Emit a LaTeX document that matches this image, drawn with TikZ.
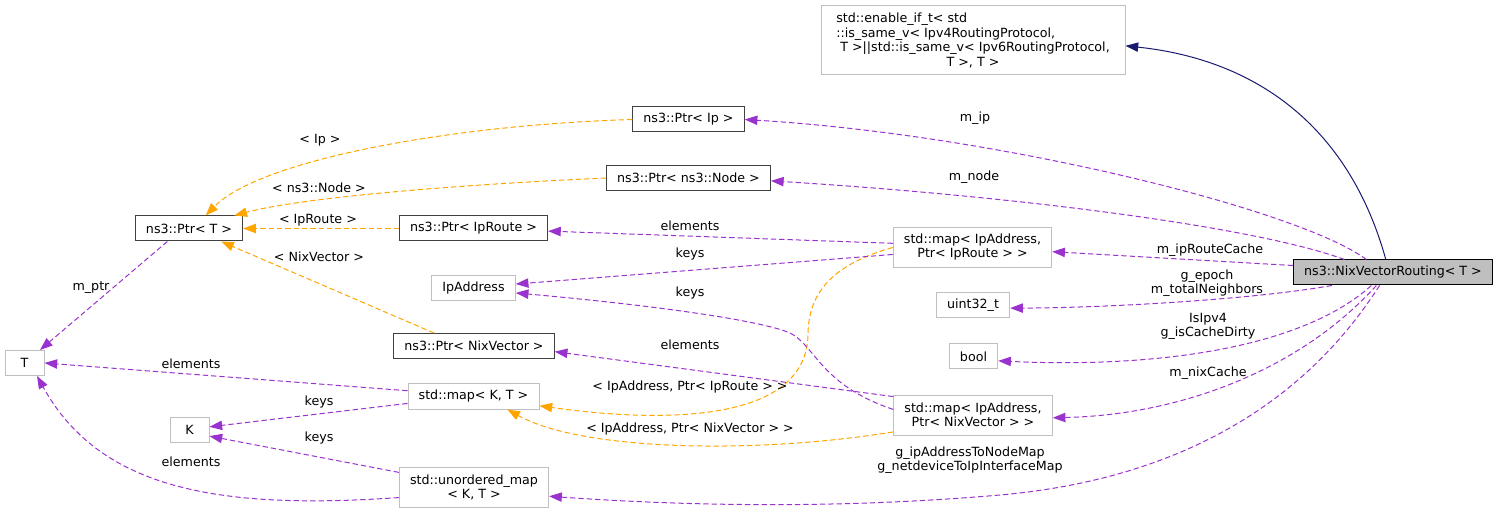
\documentclass[tikz,border=0pt]{standalone}
\usepackage{fontspec}
\setmainfont{DejaVu Sans}
\usepackage{tikz}
\usetikzlibrary{arrows.meta}
\definecolor{dgpurple}{HTML}{9A32CD}
\definecolor{dgorange}{HTML}{FFA500}
\definecolor{dgnavy}{HTML}{191970}
\definecolor{boxgray}{HTML}{BFBFBF}
\definecolor{boxdark}{HTML}{404040}

\begin{document}
\begin{tikzpicture}[x=0.75pt,y=-0.75pt,
    every node/.style={font=\fontsize{9.5}{10.5}\selectfont},
    cls/.style={draw=boxdark,line width=0.75pt,inner xsep=8pt,inner ysep=0pt,minimum height=18.75pt,minimum width=29.25pt},
    ext/.style={cls,draw=boxgray},
    two/.style={minimum height=30pt,align=center},
    lbl/.style={inner sep=0pt,align=center},
    uses/.style={dgpurple,line width=0.75pt,dash pattern=on 4pt off 2.25pt,-{Triangle[length=9.5pt,width=7pt]}},
    tpl/.style={uses,dgorange},
    inh/.style={dgnavy,line width=0.75pt,-{Triangle[length=9.5pt,width=7pt]}}]
      \useasboundingbox (0,0) rectangle (1500,513);
      % classes
      \node[ext,align=left,minimum width=228pt,minimum height=51.75pt,font=\fontsize{9.5}{11}\selectfont] (enable) at (973,40.5)
        {std::enable\_if\_t< std\\::is\_same\_v< Ipv4RoutingProtocol,\\\ T >||std::is\_same\_v< Ipv6RoutingProtocol,\\\hfill T >, T >\hfill\null};
      \node[cls] (ptrip) at (688.5,119.5) {ns3::Ptr< Ip >};
      \node[cls] (ptrnode) at (688.5,178) {ns3::Ptr< ns3::Node >};
      \node[cls] (ptrt) at (189,228.5) {ns3::Ptr< T >};
      \node[cls] (ptrroute) at (473.5,228.5) {ns3::Ptr< IpRoute >};
      \node[ext,two] (maproute) at (972.5,247.5) {std::map< IpAddress,\\Ptr< IpRoute > >};
      \node[ext] (ipaddr) at (473.5,288.5) {IpAddress};
      \node[ext] (uint) at (973,305.5) {uint32\_t};
      \node[ext] (boolbox) at (973.5,356.5) {bool};
      \node[cls,draw=black,fill=boxgray] (nvr) at (1393,272.5) {ns3::NixVectorRouting< T >};
      \node[cls] (ptrnix) at (474,346) {ns3::Ptr< NixVector >};
      \node[ext] (tnode) at (24.5,363) {T};
      \node[ext] (mapkt) at (473.5,396.5) {std::map< K, T >};
      \node[ext] (knode) at (189.5,430) {K};
      \node[ext,two] (mapnix) at (973,415) {std::map< IpAddress,\\Ptr< NixVector > >};
      \node[ext,two] (umap) at (474,487) {std::unordered\_map\\< K, T >};
      % members of NixVectorRouting
      \draw[inh] (nvr.119) .. controls (1350,130) and (1260,60) .. (enable.-2.5);
      \draw[uses] (nvr.154) .. controls (1300,210) and (1000,135) .. (ptrip.east);
      \draw[uses] (nvr.165) .. controls (1250,225) and (1000,195) .. (ptrnode.-2);
      \draw[uses] (nvr.176) -- (maproute.-3);
      \draw[uses] (nvr.-168) .. controls (1250,300) and (1100,308) .. (uint.-4);
      \draw[uses] (nvr.-149) .. controls (1300,350) and (1150,368) .. (boolbox.-10);
      \draw[uses] (nvr.-142) .. controls (1300,370) and (1180,415) .. (mapnix.-2);
      \draw[uses] (nvr.-136) .. controls (1300,410) and (1170,480) .. (1000,495)
        .. controls (850,508) and (700,507) .. (umap.-7.5);
      % template instances
      \draw[tpl] (ptrip.west) .. controls (450,125) and (260,160) .. (ptrt.38);
      \draw[tpl] (ptrnode.west) .. controls (450,185) and (300,198) .. (ptrt.16);
      \draw[tpl] (ptrroute.west) -- (ptrt.east);
      \draw[tpl] (ptrnix.162) -- (ptrt.-22);
      \draw[tpl] (maproute.west) .. controls (830,265) and (808,295) .. (808,335)
        .. controls (806,430) and (640,420) .. (mapkt.-8);
      \draw[tpl] (mapnix.-168) .. controls (750,455) and (580,450) .. (mapkt.-21.6);
      % members of the templates
      \draw[uses] (ptrt.-149) -- (tnode.40);
      \draw[uses] (maproute.177) -- (ptrroute.-2);
      \draw[uses] (maproute.-175) -- (ipaddr.6);
      \draw[uses] (mapnix.176.5) .. controls (820,385) and (815,345) .. (790,333)
        .. controls (760,320) and (650,305) .. (ipaddr.-6);
      \draw[uses] (mapnix.167.5) -- (ptrnix.-4);
      \draw[uses] (mapkt.175) -- (tnode.east);
      \draw[uses] (mapkt.-174) -- (knode.9);
      \draw[uses] (umap.169) -- (knode.-17);
      \draw[uses] (umap.-172.5) .. controls (220,510) and (100,490) .. (tnode.-46);
      % labels
      \node[lbl] (lip) at (975,118) {m\_ip};
      \node[lbl] (lnode) at (974,177) {m\_node};
      \node[lbl] (lcache) at (1210,250) {m\_ipRouteCache};
      \node[lbl] (lepoch) at (1207,283) {g\_epoch\\m\_totalNeighbors};
      \node[lbl] (lipv4) at (1208,326) {IsIpv4\\g\_isCacheDirty};
      \node[lbl] (lnix) at (1208,373) {m\_nixCache};
      \node[lbl] (lmaps) at (970,460) {g\_ipAddressToNodeMap\\g\_netdeviceToIpInterfaceMap};
      \node[lbl] (lti) at (320,140) {< Ip >};
      \node[lbl] (ltn) at (319,188) {< ns3::Node >};
      \node[lbl] (ltr) at (318,220) {< IpRoute >};
      \node[lbl] (ltv) at (319,257) {< NixVector >};
      \node[lbl] (lptr) at (91,288) {m\_ptr};
      \node[lbl] (lel1) at (690,226) {elements};
      \node[lbl] (lk1) at (690,254) {keys};
      \node[lbl] (lk2) at (690,293) {keys};
      \node[lbl] (lel2) at (690,345) {elements};
      \node[lbl] (lmr) at (690,387) {< IpAddress, Ptr< IpRoute > >};
      \node[lbl] (lmn) at (690,429) {< IpAddress, Ptr< NixVector > >};
      \node[lbl] (lel3) at (191,364) {elements};
      \node[lbl] (lk3) at (319,402) {keys};
      \node[lbl] (lk4) at (319,438) {keys};
      \node[lbl] (lel4) at (191,462) {elements};
    \end{tikzpicture}
\end{document}
